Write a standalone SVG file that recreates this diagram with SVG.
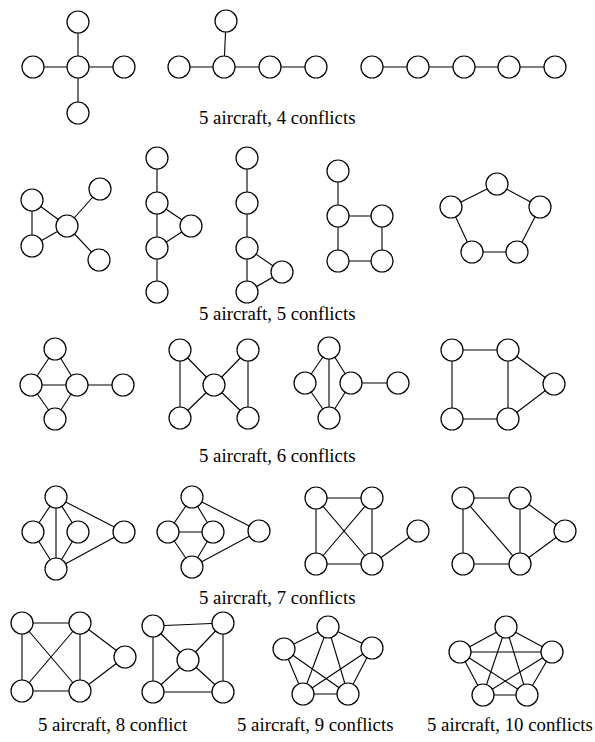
<svg xmlns="http://www.w3.org/2000/svg" width="595" height="742" viewBox="0 0 595 742">
<style>
.n{fill:#fff;stroke:#000;stroke-width:1.2}
#edges line{stroke:#000;stroke-width:1.1}
.lbl{font-family:"Liberation Serif","Times New Roman",serif;font-size:18.8px;fill:#000}
</style>
<rect width="595" height="742" fill="#fff"/>
<g id="edges">
<!-- Row 1 -->
<line x1="78" y1="22" x2="78" y2="67"/><line x1="33" y1="67" x2="78" y2="67"/><line x1="78" y1="67" x2="124" y2="67"/><line x1="78" y1="67" x2="78" y2="113"/>
<line x1="226" y1="21" x2="224" y2="67"/><line x1="179" y1="67" x2="224" y2="67"/><line x1="224" y1="67" x2="270" y2="67"/><line x1="270" y1="67" x2="316" y2="67"/>
<line x1="372" y1="67" x2="555" y2="67"/>
<!-- Row 2 -->
<line x1="32" y1="200" x2="32" y2="246"/><line x1="32" y1="200" x2="67" y2="226"/><line x1="32" y1="246" x2="67" y2="226"/><line x1="67" y1="226" x2="100" y2="189"/><line x1="67" y1="226" x2="99" y2="260"/>
<line x1="157" y1="158" x2="157" y2="292"/><line x1="157" y1="203" x2="191" y2="226"/><line x1="191" y1="226" x2="157" y2="248"/>
<line x1="247" y1="158" x2="247" y2="292"/><line x1="247" y1="248" x2="282" y2="272"/><line x1="282" y1="272" x2="247" y2="292"/>
<line x1="338" y1="171" x2="338" y2="261"/><line x1="338" y1="216" x2="382" y2="216"/><line x1="382" y1="216" x2="382" y2="261"/><line x1="338" y1="261" x2="382" y2="261"/>
<line x1="497" y1="184" x2="451" y2="207"/><line x1="497" y1="184" x2="540" y2="207"/><line x1="451" y1="207" x2="472" y2="252"/><line x1="540" y1="207" x2="517" y2="252"/><line x1="472" y1="252" x2="517" y2="252"/>
<!-- Row 3 -->
<line x1="55" y1="349" x2="31" y2="385"/><line x1="55" y1="349" x2="77" y2="385"/><line x1="31" y1="385" x2="77" y2="385"/><line x1="31" y1="385" x2="55" y2="419"/><line x1="77" y1="385" x2="55" y2="419"/><line x1="77" y1="385" x2="123" y2="385"/>
<line x1="180" y1="350" x2="180" y2="418"/><line x1="180" y1="350" x2="214" y2="385"/><line x1="248" y1="350" x2="214" y2="385"/><line x1="248" y1="350" x2="248" y2="418"/><line x1="180" y1="418" x2="214" y2="385"/><line x1="248" y1="418" x2="214" y2="385"/>
<line x1="329" y1="348" x2="305" y2="383"/><line x1="329" y1="348" x2="329" y2="418"/><line x1="329" y1="348" x2="351" y2="383"/><line x1="305" y1="383" x2="329" y2="418"/><line x1="351" y1="383" x2="329" y2="418"/><line x1="351" y1="383" x2="398" y2="383"/>
<line x1="452" y1="350" x2="508" y2="350"/><line x1="452" y1="350" x2="452" y2="419"/><line x1="452" y1="419" x2="508" y2="419"/><line x1="508" y1="350" x2="508" y2="419"/><line x1="508" y1="350" x2="554" y2="384"/><line x1="508" y1="419" x2="554" y2="384"/>
<!-- Row 4 -->
<line x1="56" y1="497" x2="33" y2="532"/><line x1="56" y1="497" x2="56" y2="569"/><line x1="56" y1="497" x2="78" y2="532"/><line x1="56" y1="497" x2="124" y2="532"/><line x1="33" y1="532" x2="56" y2="569"/><line x1="78" y1="532" x2="56" y2="569"/><line x1="56" y1="569" x2="124" y2="532"/>
<line x1="192" y1="497" x2="168" y2="532"/><line x1="192" y1="497" x2="213" y2="532"/><line x1="192" y1="497" x2="259" y2="531"/><line x1="168" y1="532" x2="213" y2="532"/><line x1="168" y1="532" x2="192" y2="567"/><line x1="213" y1="532" x2="192" y2="567"/><line x1="192" y1="567" x2="259" y2="531"/>
<line x1="316" y1="498" x2="372" y2="498"/><line x1="316" y1="498" x2="316" y2="564"/><line x1="316" y1="498" x2="372" y2="564"/><line x1="372" y1="498" x2="316" y2="564"/><line x1="372" y1="498" x2="372" y2="564"/><line x1="316" y1="564" x2="372" y2="564"/><line x1="372" y1="564" x2="418" y2="531"/>
<line x1="463" y1="498" x2="520" y2="498"/><line x1="463" y1="498" x2="463" y2="564"/><line x1="463" y1="498" x2="520" y2="564"/><line x1="520" y1="498" x2="520" y2="564"/><line x1="520" y1="498" x2="565" y2="531"/><line x1="463" y1="564" x2="520" y2="564"/><line x1="520" y1="564" x2="565" y2="531"/>
<!-- Row 5 -->
<line x1="22" y1="623" x2="80" y2="623"/><line x1="22" y1="623" x2="22" y2="691"/><line x1="22" y1="623" x2="80" y2="691"/><line x1="80" y1="623" x2="22" y2="691"/><line x1="80" y1="623" x2="80" y2="691"/><line x1="80" y1="623" x2="125" y2="657"/><line x1="22" y1="691" x2="80" y2="691"/><line x1="80" y1="691" x2="125" y2="657"/>
<line x1="153" y1="626" x2="223" y2="623"/><line x1="153" y1="626" x2="153" y2="692"/><line x1="223" y1="623" x2="223" y2="692"/><line x1="153" y1="692" x2="223" y2="692"/><line x1="188" y1="660" x2="153" y2="626"/><line x1="188" y1="660" x2="223" y2="623"/><line x1="188" y1="660" x2="153" y2="692"/><line x1="188" y1="660" x2="223" y2="692"/>
<line x1="328" y1="627" x2="284" y2="649"/><line x1="328" y1="627" x2="372" y2="648"/><line x1="328" y1="627" x2="303" y2="694"/><line x1="328" y1="627" x2="348" y2="694"/><line x1="284" y1="649" x2="303" y2="694"/><line x1="284" y1="649" x2="348" y2="694"/><line x1="372" y1="648" x2="303" y2="694"/><line x1="372" y1="648" x2="348" y2="694"/><line x1="303" y1="694" x2="348" y2="694"/>
<line x1="506" y1="627" x2="460" y2="652"/><line x1="506" y1="627" x2="552" y2="652"/><line x1="506" y1="627" x2="483" y2="695"/><line x1="506" y1="627" x2="527" y2="695"/><line x1="460" y1="652" x2="552" y2="652"/><line x1="460" y1="652" x2="483" y2="695"/><line x1="460" y1="652" x2="527" y2="695"/><line x1="552" y1="652" x2="483" y2="695"/><line x1="552" y1="652" x2="527" y2="695"/><line x1="483" y1="695" x2="527" y2="695"/>
</g>
<g id="nodes">
<g id="a1"><circle class="n" cx="78" cy="22" r="11"/></g><g id="a2"><circle class="n" cx="33" cy="67" r="11"/></g><g id="a3"><circle class="n" cx="78" cy="67" r="11"/></g><g id="a4"><circle class="n" cx="124" cy="67" r="11"/></g><g id="a5"><circle class="n" cx="78" cy="113" r="11"/></g>
<g id="b1"><circle class="n" cx="226" cy="21" r="11"/></g><g id="b2"><circle class="n" cx="179" cy="67" r="11"/></g><g id="b3"><circle class="n" cx="224" cy="67" r="11"/></g><g id="b4"><circle class="n" cx="270" cy="67" r="11"/></g><g id="b5"><circle class="n" cx="316" cy="67" r="11"/></g>
<g id="c1"><circle class="n" cx="372" cy="67" r="11"/></g><g id="c2"><circle class="n" cx="418" cy="67" r="11"/></g><g id="c3"><circle class="n" cx="464" cy="67" r="11"/></g><g id="c4"><circle class="n" cx="509" cy="67" r="11"/></g><g id="c5"><circle class="n" cx="555" cy="67" r="11"/></g>
<g id="d1"><circle class="n" cx="32" cy="200" r="11"/></g><g id="d2"><circle class="n" cx="32" cy="246" r="11"/></g><g id="d3"><circle class="n" cx="67" cy="226" r="11"/></g><g id="d4"><circle class="n" cx="100" cy="189" r="11"/></g><g id="d5"><circle class="n" cx="99" cy="260" r="11"/></g>
<g id="e1"><circle class="n" cx="157" cy="158" r="11"/></g><g id="e2"><circle class="n" cx="157" cy="203" r="11"/></g><g id="e3"><circle class="n" cx="191" cy="226" r="11"/></g><g id="e4"><circle class="n" cx="157" cy="248" r="11"/></g><g id="e5"><circle class="n" cx="157" cy="292" r="11"/></g>
<g id="f1"><circle class="n" cx="247" cy="158" r="11"/></g><g id="f2"><circle class="n" cx="247" cy="203" r="11"/></g><g id="f3"><circle class="n" cx="247" cy="248" r="11"/></g><g id="f4"><circle class="n" cx="282" cy="272" r="11"/></g><g id="f5"><circle class="n" cx="247" cy="292" r="11"/></g>
<g id="g1"><circle class="n" cx="338" cy="171" r="11"/></g><g id="g2"><circle class="n" cx="338" cy="216" r="11"/></g><g id="g3"><circle class="n" cx="382" cy="216" r="11"/></g><g id="g4"><circle class="n" cx="338" cy="261" r="11"/></g><g id="g5"><circle class="n" cx="382" cy="261" r="11"/></g>
<g id="h1"><circle class="n" cx="497" cy="184" r="11"/></g><g id="h2"><circle class="n" cx="451" cy="207" r="11"/></g><g id="h3"><circle class="n" cx="540" cy="207" r="11"/></g><g id="h4"><circle class="n" cx="472" cy="252" r="11"/></g><g id="h5"><circle class="n" cx="517" cy="252" r="11"/></g>
<g id="i1"><circle class="n" cx="55" cy="349" r="11"/></g><g id="i2"><circle class="n" cx="31" cy="385" r="11"/></g><g id="i3"><circle class="n" cx="77" cy="385" r="11"/></g><g id="i4"><circle class="n" cx="123" cy="385" r="11"/></g><g id="i5"><circle class="n" cx="55" cy="419" r="11"/></g>
<g id="j1"><circle class="n" cx="180" cy="350" r="11"/></g><g id="j2"><circle class="n" cx="248" cy="350" r="11"/></g><g id="j3"><circle class="n" cx="214" cy="385" r="11"/></g><g id="j4"><circle class="n" cx="180" cy="418" r="11"/></g><g id="j5"><circle class="n" cx="248" cy="418" r="11"/></g>
<g id="k1"><circle class="n" cx="329" cy="348" r="11"/></g><g id="k2"><circle class="n" cx="305" cy="383" r="11"/></g><g id="k3"><circle class="n" cx="351" cy="383" r="11"/></g><g id="k4"><circle class="n" cx="329" cy="418" r="11"/></g><g id="k5"><circle class="n" cx="398" cy="383" r="11"/></g>
<g id="l1"><circle class="n" cx="452" cy="350" r="11"/></g><g id="l2"><circle class="n" cx="508" cy="350" r="11"/></g><g id="l3"><circle class="n" cx="554" cy="384" r="11"/></g><g id="l4"><circle class="n" cx="452" cy="419" r="11"/></g><g id="l5"><circle class="n" cx="508" cy="419" r="11"/></g>
<g id="m1"><circle class="n" cx="56" cy="497" r="11"/></g><g id="m2"><circle class="n" cx="33" cy="532" r="11"/></g><g id="m3"><circle class="n" cx="78" cy="532" r="11"/></g><g id="m4"><circle class="n" cx="124" cy="532" r="11"/></g><g id="m5"><circle class="n" cx="56" cy="569" r="11"/></g>
<g id="n1"><circle class="n" cx="192" cy="497" r="11"/></g><g id="n2"><circle class="n" cx="168" cy="532" r="11"/></g><g id="n3"><circle class="n" cx="213" cy="532" r="11"/></g><g id="n4"><circle class="n" cx="259" cy="531" r="11"/></g><g id="n5"><circle class="n" cx="192" cy="567" r="11"/></g>
<g id="o1"><circle class="n" cx="316" cy="498" r="11"/></g><g id="o2"><circle class="n" cx="372" cy="498" r="11"/></g><g id="o3"><circle class="n" cx="316" cy="564" r="11"/></g><g id="o4"><circle class="n" cx="372" cy="564" r="11"/></g><g id="o5"><circle class="n" cx="418" cy="531" r="11"/></g>
<g id="p1"><circle class="n" cx="463" cy="498" r="11"/></g><g id="p2"><circle class="n" cx="520" cy="498" r="11"/></g><g id="p3"><circle class="n" cx="565" cy="531" r="11"/></g><g id="p4"><circle class="n" cx="463" cy="564" r="11"/></g><g id="p5"><circle class="n" cx="520" cy="564" r="11"/></g>
<g id="q1"><circle class="n" cx="22" cy="623" r="11"/></g><g id="q2"><circle class="n" cx="80" cy="623" r="11"/></g><g id="q3"><circle class="n" cx="125" cy="657" r="11"/></g><g id="q4"><circle class="n" cx="22" cy="691" r="11"/></g><g id="q5"><circle class="n" cx="80" cy="691" r="11"/></g>
<g id="r1"><circle class="n" cx="153" cy="626" r="11"/></g><g id="r2"><circle class="n" cx="223" cy="623" r="11"/></g><g id="r3"><circle class="n" cx="188" cy="660" r="11"/></g><g id="r4"><circle class="n" cx="153" cy="692" r="11"/></g><g id="r5"><circle class="n" cx="223" cy="692" r="11"/></g>
<g id="s1"><circle class="n" cx="328" cy="627" r="11"/></g><g id="s2"><circle class="n" cx="284" cy="649" r="11"/></g><g id="s3"><circle class="n" cx="372" cy="648" r="11"/></g><g id="s4"><circle class="n" cx="303" cy="694" r="11"/></g><g id="s5"><circle class="n" cx="348" cy="694" r="11"/></g>
<g id="t1"><circle class="n" cx="506" cy="627" r="11"/></g><g id="t2"><circle class="n" cx="460" cy="652" r="11"/></g><g id="t3"><circle class="n" cx="552" cy="652" r="11"/></g><g id="t4"><circle class="n" cx="483" cy="695" r="11"/></g><g id="t5"><circle class="n" cx="527" cy="695" r="11"/></g>
</g>
<g id="labels">
<text class="lbl" x="199" y="124">5 aircraft, 4 conflicts</text>
<text class="lbl" x="199" y="320">5 aircraft, 5 conflicts</text>
<text class="lbl" x="199" y="462">5 aircraft, 6 conflicts</text>
<text class="lbl" x="199" y="604">5 aircraft, 7 conflicts</text>
<text class="lbl" x="38" y="731">5 aircraft, 8 conflict</text>
<text class="lbl" x="237" y="731">5 aircraft, 9 conflicts</text>
<text class="lbl" x="427" y="731">5 aircraft, 10 conflicts</text>
</g>
</svg>
